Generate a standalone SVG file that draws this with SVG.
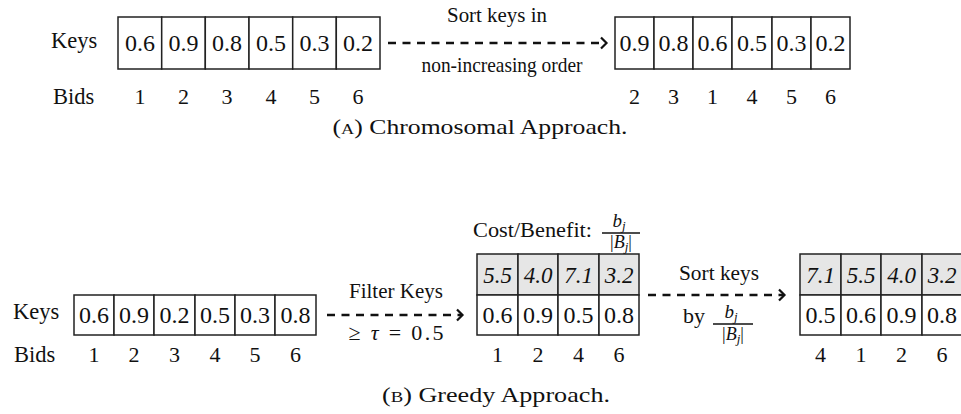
<svg xmlns="http://www.w3.org/2000/svg" width="961" height="414" viewBox="0 0 961 414" font-family="'Liberation Serif','DejaVu Serif',serif">
<defs>
<style>
.t{font-family:"Liberation Serif","DejaVu Serif",serif;fill:#111}
.c{font-size:24px;text-anchor:middle}
.ci{font-size:23px;text-anchor:middle;font-style:italic}
.lab{font-size:22.5px}
.n{font-size:22px;text-anchor:middle}
.cell{fill:#fff;stroke:#222;stroke-width:1.5}
.gcell{fill:#e6e6e6;stroke:#222;stroke-width:1.5}
.conn{fill:none;stroke:#111;stroke-width:2.3;stroke-dasharray:8 6.5}
.fr{stroke:#111;stroke-width:1.6}
.sm{font-size:19px;font-style:italic}
.den{font-size:18px}
</style>
<marker id="chev" markerUnits="userSpaceOnUse" markerWidth="14" markerHeight="14" refX="7" refY="7" orient="auto">
<path d="M2,1.5 L7.5,7 L2,12.5" fill="none" stroke="#111" stroke-width="2.2"/>
</marker>
</defs>

<!-- (A) -->
<g id="labelsA" class="t">
<text class="lab" x="51" y="48">Keys</text>
<text class="lab" x="53" y="104">Bids</text>
</g>
<g id="keysA">
<rect class="cell" x="118" y="17" width="43.7" height="52"/>
<rect class="cell" x="161.7" y="17" width="43.6" height="52"/>
<rect class="cell" x="205.3" y="17" width="43.7" height="52"/>
<rect class="cell" x="249" y="17" width="43.7" height="52"/>
<rect class="cell" x="292.7" y="17" width="43.6" height="52"/>
<rect class="cell" x="336.3" y="17" width="43.7" height="52"/>
<g class="t c">
<text x="140" y="51">0.6</text><text x="183.5" y="51">0.9</text><text x="227" y="51">0.8</text>
<text x="271" y="51">0.5</text><text x="314.5" y="51">0.3</text><text x="358" y="51">0.2</text>
</g>
<g class="t n">
<text x="140" y="104">1</text><text x="183.5" y="104">2</text><text x="227" y="104">3</text>
<text x="271" y="104">4</text><text x="314.5" y="104">5</text><text x="358" y="104">6</text>
</g>
</g>
<g id="sortedA">
<rect class="cell" x="615" y="17" width="39" height="52"/>
<rect class="cell" x="654" y="17" width="39" height="52"/>
<rect class="cell" x="693" y="17" width="39" height="52"/>
<rect class="cell" x="732" y="17" width="40" height="52"/>
<rect class="cell" x="772" y="17" width="39" height="52"/>
<rect class="cell" x="811" y="17" width="39" height="52"/>
<g class="t c">
<text x="634.5" y="51">0.9</text><text x="673.5" y="51">0.8</text><text x="712.5" y="51">0.6</text>
<text x="752" y="51">0.5</text><text x="791.5" y="51">0.3</text><text x="830.5" y="51">0.2</text>
</g>
<g class="t n">
<text x="634.5" y="104">2</text><text x="673.5" y="104">3</text><text x="712.5" y="104">1</text>
<text x="752" y="104">4</text><text x="791.5" y="104">5</text><text x="830.5" y="104">6</text>
</g>
</g>
<g id="captionA" class="t">
<text x="480" y="134" font-size="21" text-anchor="middle" textLength="295" lengthAdjust="spacingAndGlyphs">(<tspan font-size="15">A</tspan>) Chromosomal Approach.</text>
</g>

<!-- (B) -->
<g id="labelsB" class="t">
<text class="lab" x="13" y="319">Keys</text>
<text class="lab" x="14" y="362">Bids</text>
</g>
<g id="keysB">
<rect class="cell" x="74" y="295" width="40" height="40"/>
<rect class="cell" x="114" y="295" width="40" height="40"/>
<rect class="cell" x="154" y="295" width="41" height="40"/>
<rect class="cell" x="195" y="295" width="40" height="40"/>
<rect class="cell" x="235" y="295" width="40" height="40"/>
<rect class="cell" x="275" y="295" width="41" height="40"/>
<g class="t c">
<text x="94" y="323">0.6</text><text x="134" y="323">0.9</text><text x="174.5" y="323">0.2</text>
<text x="215" y="323">0.5</text><text x="255" y="323">0.3</text><text x="295.5" y="323">0.8</text>
</g>
<g class="t n">
<text x="94" y="362">1</text><text x="134" y="362">2</text><text x="174.5" y="362">3</text>
<text x="215" y="362">4</text><text x="255" y="362">5</text><text x="295.5" y="362">6</text>
</g>
</g>
<g id="filteredB">
<rect class="gcell" x="477" y="254" width="41" height="41"/>
<rect class="gcell" x="518" y="254" width="40" height="41"/>
<rect class="gcell" x="558" y="254" width="41" height="41"/>
<rect class="gcell" x="599" y="254" width="40" height="41"/>
<rect class="cell" x="477" y="295" width="41" height="40"/>
<rect class="cell" x="518" y="295" width="40" height="40"/>
<rect class="cell" x="558" y="295" width="41" height="40"/>
<rect class="cell" x="599" y="295" width="40" height="40"/>
<g class="t ci">
<text x="497.5" y="283">5.5</text><text x="538" y="283">4.0</text><text x="578.5" y="283">7.1</text><text x="619" y="283">3.2</text>
</g>
<g class="t c">
<text x="497.5" y="323">0.6</text><text x="538" y="323">0.9</text><text x="578.5" y="323">0.5</text><text x="619" y="323">0.8</text>
</g>
<g class="t n">
<text x="497.5" y="362">1</text><text x="538" y="362">2</text><text x="578.5" y="362">4</text><text x="619" y="362">6</text>
</g>
<g class="t">
<text x="473" y="237" font-size="21" textLength="119" lengthAdjust="spacingAndGlyphs">Cost/Benefit:</text>
<text class="sm" x="619" y="227" text-anchor="middle">b<tspan font-size="13" dy="3">j</tspan></text>
<line class="fr" x1="602" y1="233" x2="640" y2="233"/>
<text class="den" x="621" y="248" text-anchor="middle">|<tspan font-style="italic">B</tspan><tspan font-size="13" font-style="italic" dy="3">j</tspan><tspan dy="-3">|</tspan></text>
</g>
</g>
<g id="sortedB">
<rect class="gcell" x="800" y="254" width="41" height="41"/>
<rect class="gcell" x="841" y="254" width="40" height="41"/>
<rect class="gcell" x="881" y="254" width="41" height="41"/>
<rect class="gcell" x="922" y="254" width="40" height="41"/>
<rect class="cell" x="800" y="295" width="41" height="40"/>
<rect class="cell" x="841" y="295" width="40" height="40"/>
<rect class="cell" x="881" y="295" width="41" height="40"/>
<rect class="cell" x="922" y="295" width="40" height="40"/>
<g class="t ci">
<text x="820.5" y="283">7.1</text><text x="861" y="283">5.5</text><text x="901.5" y="283">4.0</text><text x="942" y="283">3.2</text>
</g>
<g class="t c">
<text x="820.5" y="323">0.5</text><text x="861" y="323">0.6</text><text x="901.5" y="323">0.9</text><text x="942" y="323">0.8</text>
</g>
<g class="t n">
<text x="820.5" y="362">4</text><text x="861" y="362">1</text><text x="901.5" y="362">2</text><text x="942" y="362">6</text>
</g>
</g>
<g id="captionB" class="t">
<text x="496" y="402" font-size="21" text-anchor="middle" textLength="228" lengthAdjust="spacingAndGlyphs">(<tspan font-size="15">B</tspan>) Greedy Approach.</text>
</g>

<!-- connectors -->
<g id="connectors">
<line class="conn" x1="388" y1="43" x2="606" y2="43" marker-end="url(#chev)"/>
<line class="conn" x1="327" y1="315" x2="462" y2="315" marker-end="url(#chev)"/>
<line class="conn" x1="648" y1="295" x2="784" y2="295" marker-end="url(#chev)"/>
<g class="t">
<text x="497" y="22" font-size="21" text-anchor="middle" textLength="100" lengthAdjust="spacingAndGlyphs">Sort keys in</text>
<text x="502" y="72" font-size="21" text-anchor="middle" textLength="161" lengthAdjust="spacingAndGlyphs">non-increasing order</text>
<text x="396" y="298" font-size="22" text-anchor="middle" textLength="94" lengthAdjust="spacingAndGlyphs">Filter Keys</text>
<text x="396" y="340" font-size="22" text-anchor="middle" textLength="95" lengthAdjust="spacing">≥ <tspan font-style="italic">τ</tspan> = 0.5</text>
<text x="719" y="280" font-size="22" text-anchor="middle" textLength="80" lengthAdjust="spacingAndGlyphs">Sort keys</text>
<text x="683" y="323" font-size="22">by</text>
<text class="sm" x="731" y="318" text-anchor="middle">b<tspan font-size="13" dy="3">j</tspan></text>
<line class="fr" x1="713" y1="324" x2="753" y2="324"/>
<text class="den" x="733" y="340" text-anchor="middle">|<tspan font-style="italic">B</tspan><tspan font-size="13" font-style="italic" dy="3">j</tspan><tspan dy="-3">|</tspan></text>
</g>
</g>
</svg>
